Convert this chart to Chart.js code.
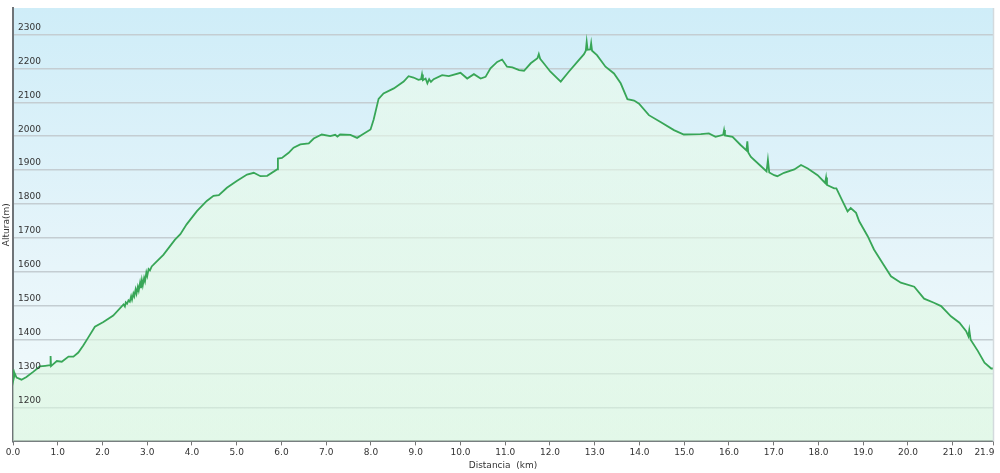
<!DOCTYPE html>
<html>
<head>
<meta charset="utf-8">
<script src="https://cdn.jsdelivr.net/npm/chart.js@4.4.1/dist/chart.umd.min.js"></script>
<style>
  html, body { margin: 0; padding: 0; background: #fff; }
  #wrap { width: 1000px; height: 473px; }
</style>
</head>
<body>
<div id="wrap"><canvas id="perfil"></canvas></div>
<script>
// Perfil de altura: distancia (km) y altura (m)
var distanciaKm = [
  0.00, 0.01, 0.02, 0.04, 0.08, 0.19, 0.30, 0.45, 0.60, 0.72, 0.83, 0.84, 0.85, 0.90, 0.98,
  1.09, 1.24, 1.35, 1.46, 1.57, 1.68, 1.83, 2.02, 2.24, 2.47, 2.50, 2.52, 2.55, 2.58, 2.61,
  2.64, 2.66, 2.69, 2.71, 2.74, 2.76, 2.79, 2.81, 2.84, 2.86, 2.88, 2.90, 2.93, 2.95, 2.98,
  3.00, 3.03, 3.06, 3.10, 3.14, 3.36, 3.62, 3.74, 3.88, 4.11, 4.33, 4.48, 4.60, 4.78, 5.00,
  5.23, 5.38, 5.53, 5.68, 5.90, 5.92, 6.01, 6.16, 6.27, 6.42, 6.61, 6.72, 6.90, 7.09, 7.20,
  7.25, 7.31, 7.54, 7.69, 7.80, 7.99, 8.06, 8.17, 8.28, 8.51, 8.73, 8.84, 8.95, 9.06, 9.12,
  9.14, 9.16, 9.22, 9.26, 9.30, 9.34, 9.40, 9.59, 9.74, 10.00, 10.15, 10.30, 10.45, 10.56, 10.67,
  10.82, 10.93, 11.04, 11.16, 11.31, 11.42, 11.57, 11.72, 11.75, 11.78, 11.86, 12.01, 12.24, 12.42, 12.61,
  12.76, 12.80, 12.82, 12.84, 12.90, 12.92, 12.94, 13.05, 13.24, 13.43, 13.58, 13.73, 13.88, 13.99, 14.21,
  14.47, 14.77, 14.99, 15.37, 15.55, 15.70, 15.87, 15.89, 15.91, 16.08, 16.26, 16.39, 16.41, 16.43, 16.49,
  16.71, 16.84, 16.87, 16.90, 17.01, 17.08, 17.23, 17.46, 17.61, 17.76, 17.98, 18.15, 18.17, 18.19, 18.35,
  18.40, 18.54, 18.65, 18.72, 18.84, 18.91, 19.10, 19.24, 19.43, 19.62, 19.84, 20.14, 20.36, 20.58, 20.74,
  20.96, 21.15, 21.30, 21.35, 21.37, 21.40, 21.56, 21.71, 21.86, 21.90
];
var alturaM = [
  1298, 1312, 1285, 1300, 1288, 1282, 1290, 1305, 1321, 1323, 1325, 1352, 1322, 1328, 1337,
  1335, 1350, 1350, 1362, 1383, 1406, 1438, 1452, 1471, 1504, 1498, 1510, 1506, 1516, 1512,
  1528, 1518, 1536, 1528, 1548, 1536, 1556, 1545, 1568, 1552, 1575, 1560, 1582, 1572, 1598,
  1588, 1608, 1604, 1616, 1621, 1650, 1695, 1711, 1740, 1779, 1809, 1824, 1826, 1848, 1868,
  1887, 1892, 1882, 1883, 1902, 1934, 1936, 1951, 1966, 1976, 1979, 1993, 2005, 2000, 2004,
  1999, 2005, 2004, 1995, 2004, 2020, 2049, 2110, 2126, 2141, 2161, 2177, 2173, 2166, 2168,
  2182, 2165, 2170, 2156, 2168, 2160, 2168, 2180, 2177, 2187, 2170, 2183, 2170, 2175, 2200,
  2219, 2226, 2205, 2203, 2195, 2193, 2215, 2230, 2242, 2228, 2215, 2190, 2161, 2190, 2219,
  2242, 2252, 2278, 2255, 2256, 2274, 2252, 2239, 2205, 2185, 2156, 2109, 2105, 2096, 2062,
  2042, 2018, 2005, 2006, 2008, 1998, 2004, 2018, 2002, 1998, 1974, 1958, 1985, 1952, 1939,
  1912, 1896, 1930, 1893, 1885, 1882, 1892, 1902, 1915, 1905, 1885, 1862, 1878, 1856, 1846,
  1846, 1808, 1778, 1788, 1774, 1749, 1705, 1666, 1626, 1587, 1568, 1556, 1521, 1509, 1499,
  1469, 1450, 1425, 1410, 1428, 1400, 1367, 1332, 1315, 1315
];
var ticksX = [0, 1, 2, 3, 4, 5, 6, 7, 8, 9, 10, 11, 12, 13, 14, 15, 16, 17, 18, 19, 20, 21, 21.9];
var ticksY = [1200, 1300, 1400, 1500, 1600, 1700, 1800, 1900, 2000, 2100, 2200, 2300];

var puntos = distanciaKm.map(function (d, i) { return { x: d, y: alturaM[i] }; });

// Fondo azul degradado y borde derecho del area del grafico
var fondoPlugin = {
  id: 'fondo',
  beforeDraw: function (chart) {
    var a = chart.chartArea, ctx = chart.ctx;
    var g = ctx.createLinearGradient(0, a.top, 0, a.bottom);
    g.addColorStop(0, '#cfedf8');
    g.addColorStop(0.6, '#e7f5fa');
    g.addColorStop(1, '#f3fbfc');
    ctx.save();
    ctx.fillStyle = g;
    ctx.fillRect(a.left, a.top, a.right - a.left, a.bottom - a.top);
    ctx.restore();
  },
  afterDraw: function (chart) {
    var a = chart.chartArea, ctx = chart.ctx;
    ctx.save();
    ctx.strokeStyle = '#d3dadd';
    ctx.lineWidth = 1.5;
    ctx.beginPath();
    ctx.moveTo(a.right + 0.5, a.top);
    ctx.lineTo(a.right + 0.5, a.bottom);
    ctx.stroke();
    ctx.restore();
  }
};

var fuente = { family: 'DejaVu Sans', size: 9 };

new Chart(document.getElementById('perfil').getContext('2d'), {
  type: 'line',
  data: {
    datasets: [{
      data: puntos,
      borderColor: '#38a657',
      borderWidth: 1.8,
      pointRadius: 0,
      tension: 0,
      fill: 'origin',
      backgroundColor: function (context) {
        var a = context.chart.chartArea;
        if (!a) return 'rgba(226,247,234,0.6)';
        var g = context.chart.ctx.createLinearGradient(0, a.top, 0, a.bottom);
        g.addColorStop(0, 'rgba(240,253,238,0.6)');
        g.addColorStop(1, 'rgba(216,246,220,0.6)');
        return g;
      }
    }]
  },
  options: {
    responsive: true,
    maintainAspectRatio: false,
    animation: false,
    layout: { padding: { top: 8, right: 7, left: 0, bottom: 0 } },
    plugins: {
      legend: { display: false },
      tooltip: { enabled: false }
    },
    scales: {
      x: {
        type: 'linear',
        min: 0,
        max: 21.9,
        afterBuildTicks: function (axis) {
          axis.ticks = ticksX.map(function (v) { return { value: v }; });
        },
        afterFit: function (axis) { axis.paddingRight = 0; },
        ticks: {
          autoSkip: false,
          maxRotation: 0,
          padding: 2,
          color: '#333',
          font: fuente,
          callback: function (v) {
            var s = Number(v).toFixed(1);
            return v === 21.9 ? s + '      ' : s;
          }
        },
        grid: {
          drawOnChartArea: false,
          drawTicks: true,
          tickLength: 4,
          color: '#777'
        },
        border: { color: '#6f7478', width: 2 },
        title: {
          display: true,
          text: 'Distancia  (km)',
          color: '#333',
          font: fuente,
          padding: { top: 0, bottom: 2 }
        }
      },
      y: {
        min: 1100,
        max: 2378,
        afterBuildTicks: function (axis) {
          axis.ticks = ticksY.map(function (v) { return { value: v }; });
        },
        afterFit: function (axis) {
          axis.width = 13;
          axis.paddingTop = 0;
          axis.paddingBottom = 0;
        },
        ticks: {
          mirror: true,
          padding: 5,
          labelOffset: -7,
          z: 1,
          color: '#333',
          font: fuente,
          callback: function (v) { return String(v); }
        },
        grid: {
          drawTicks: false,
          color: '#c4cdd2',
          lineWidth: 1.5
        },
        border: { color: '#6f7478', width: 2 },
        title: {
          display: true,
          text: 'Altura(m)',
          color: '#333',
          font: fuente,
          padding: { top: 1, bottom: 0 }
        }
      }
    }
  },
  plugins: [fondoPlugin]
});
</script>
</body>
</html>
